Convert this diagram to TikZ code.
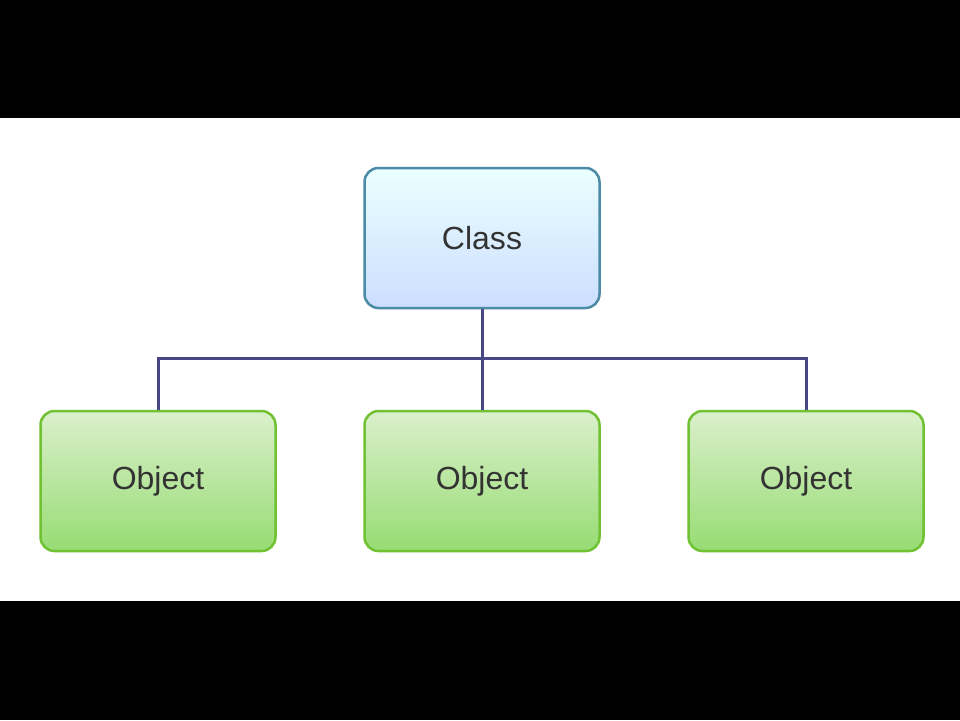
\documentclass[tikz,border=0pt]{standalone}
\usepackage{fontspec}
\setmainfont{Liberation Sans}
\begin{document}
\begin{tikzpicture}[x=1pt,y=-1pt,
  box/.style={rounded corners=14pt,line width=2.5pt,minimum width=235pt,minimum height=140pt,font=\fontsize{32}{36}\selectfont,text=black!80},
  cls/.style={box,draw=blue!30!cyan!50!black!70,top color=cyan!8,bottom color=cyan!35!blue!20!white},
  obj/.style={box,draw=green!40!olive!80,top color=green!40!olive!20!white,bottom color=green!50!olive!55!white},
  conn/.style={draw=blue!30!gray!80!black,line width=3pt}]
\fill[black] (0,0) rectangle (960,720);
\fill[white] (0,118) rectangle (960,601);
\node[cls] (c) at (482,238) {Class};
\node[obj] (o1) at (158,481) {Object};
\node[obj] (o2) at (482,481) {Object};
\node[obj] (o3) at (806,481) {Object};
\coordinate (m) at (482,358);
\draw[conn] (c.south) -- (o2.north);
\draw[conn] (o1.north) |- (m) -| (o3.north);
\end{tikzpicture}
\end{document}
